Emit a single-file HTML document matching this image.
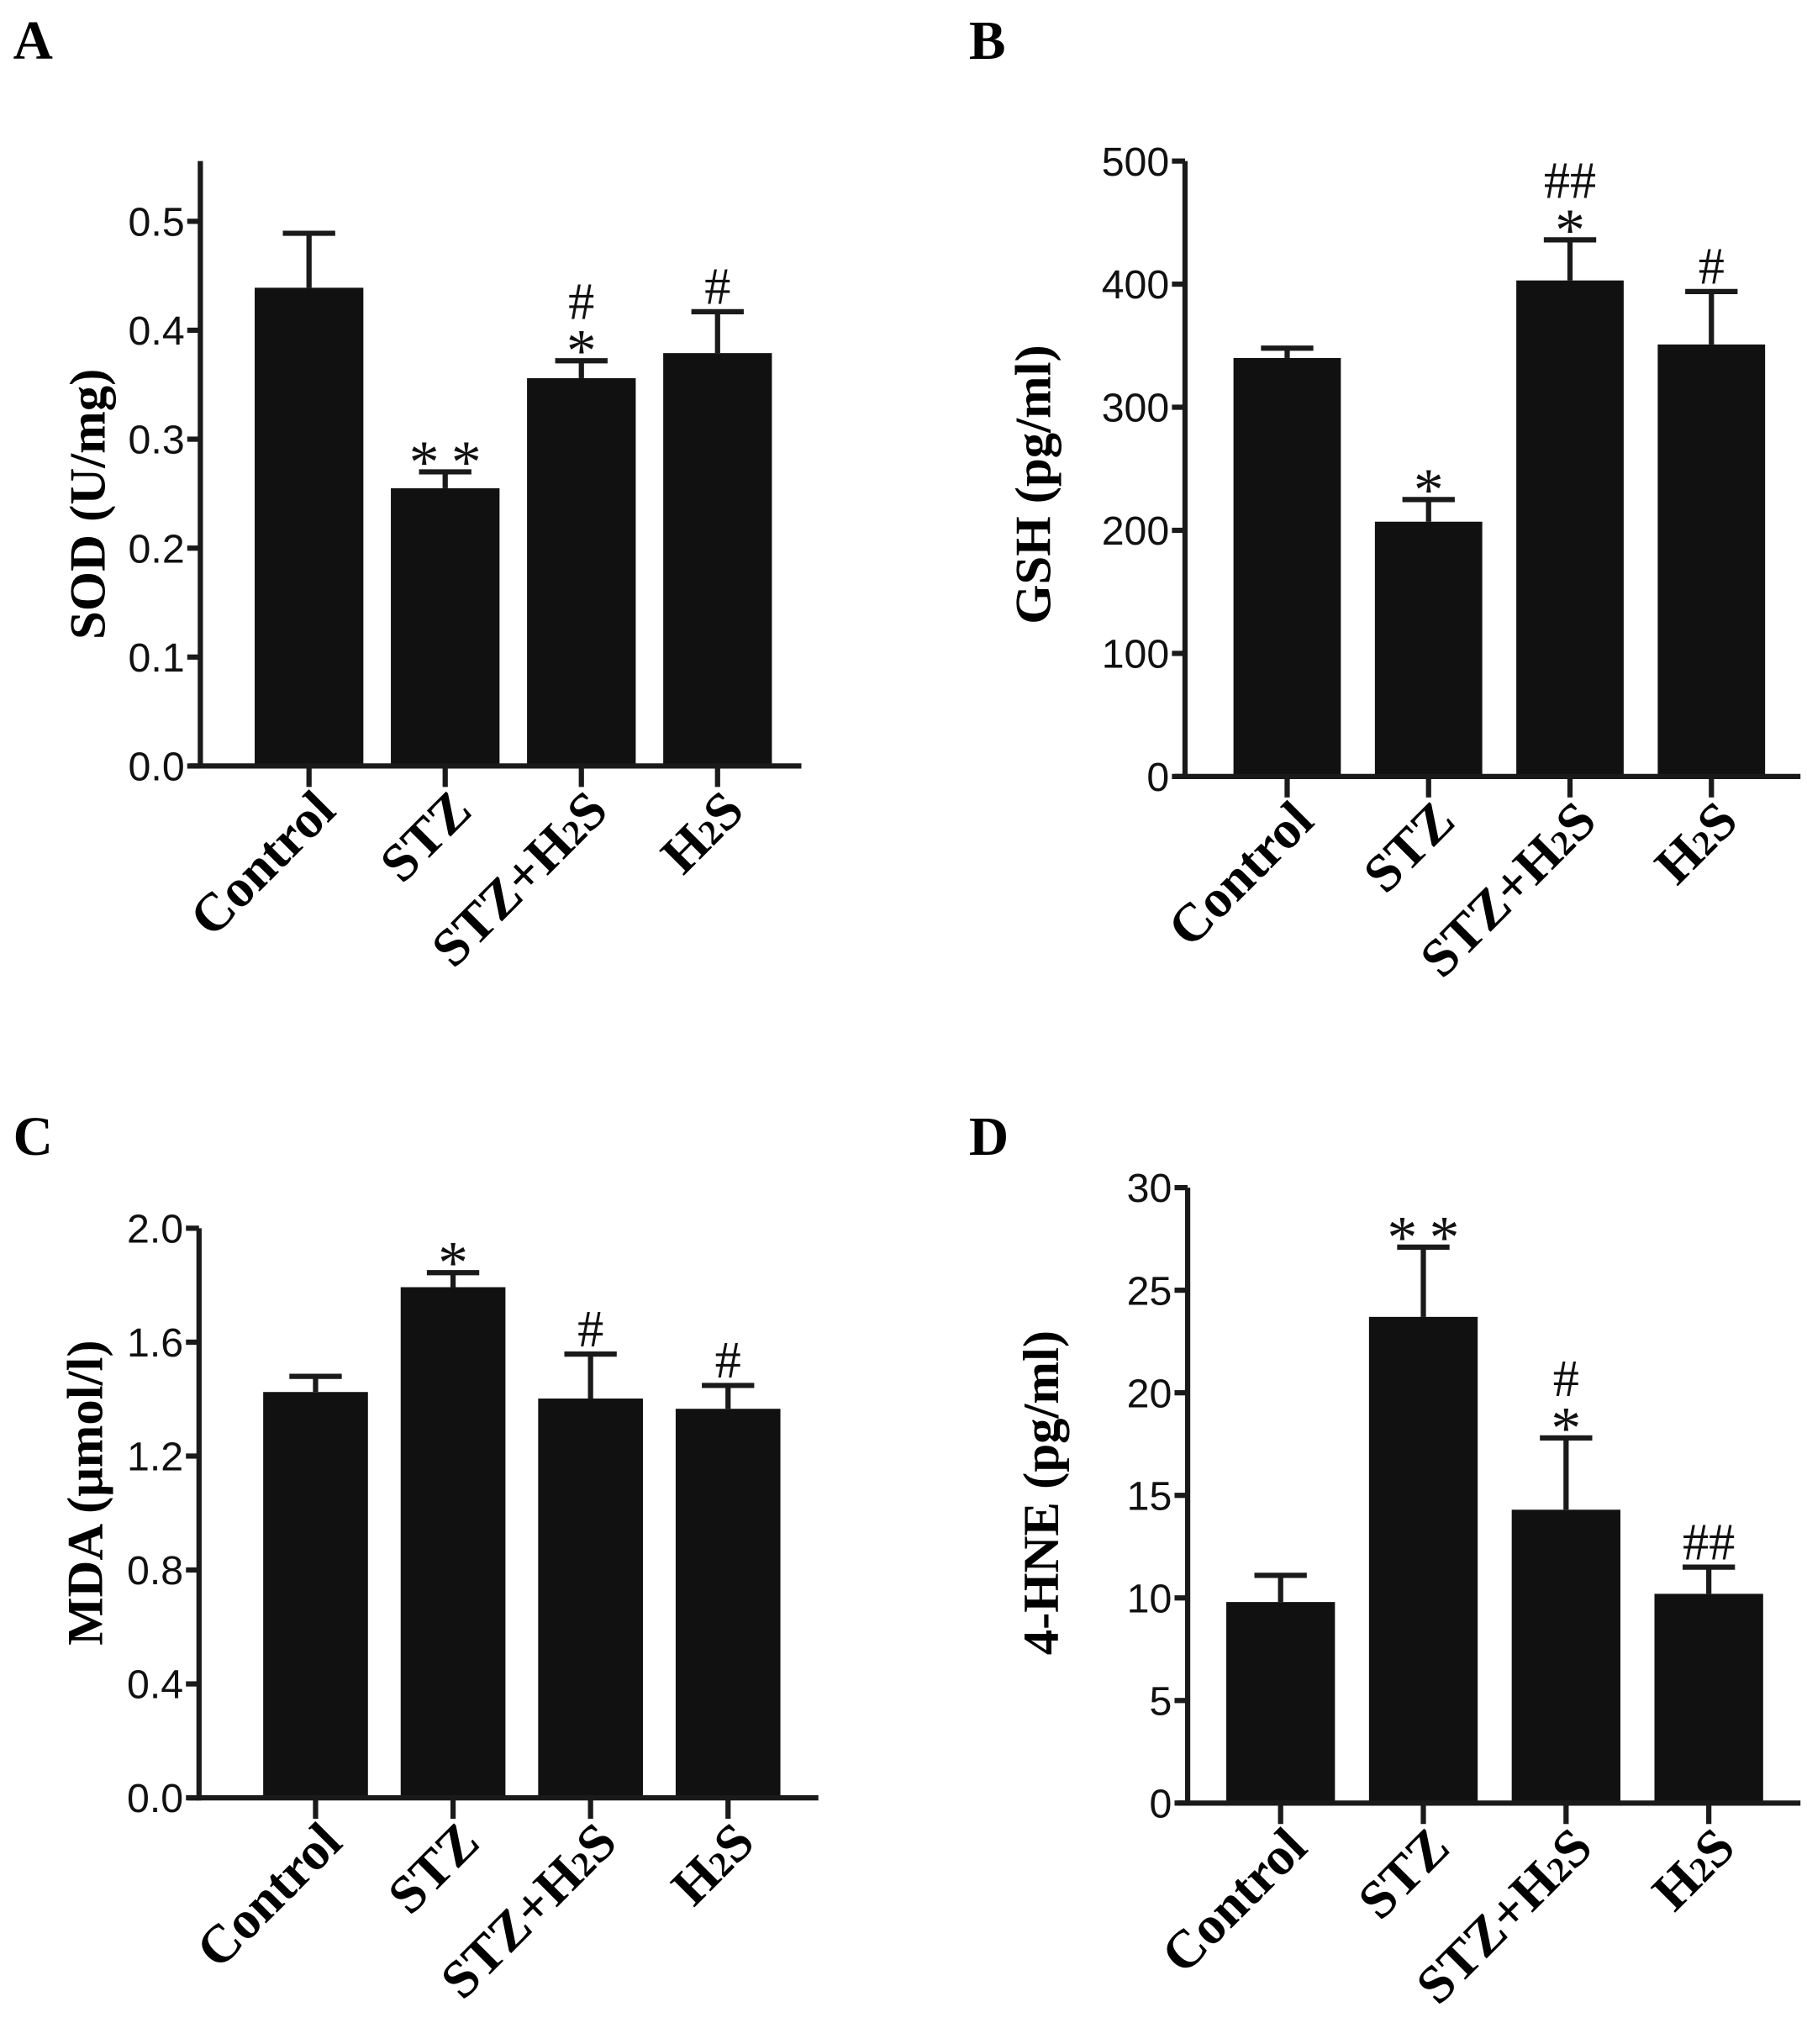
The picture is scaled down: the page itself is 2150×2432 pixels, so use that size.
<!DOCTYPE html>
<html><head><meta charset="utf-8">
<style>
html,body{margin:0;padding:0;background:#fff;}
svg{display:block;}
.tick{font-family:"Liberation Sans",Arial,sans-serif;font-size:31px;fill:#111;}
.cat{font-family:"Liberation Serif",serif;font-weight:bold;font-size:41px;fill:#000;}
.ytitle{font-family:"Liberation Serif",serif;font-weight:bold;font-size:39px;fill:#000;}
.letter{font-family:"Liberation Serif",serif;font-weight:bold;font-size:42px;fill:#000;}
.sig{font-family:"Liberation Serif",serif;font-size:40px;fill:#111;}
.star{font-family:"Liberation Serif",serif;font-size:46px;fill:#111;}
</style></head>
<body>
<svg id="fig" width="2150" height="2432" viewBox="0 0 1380 1561" xmlns="http://www.w3.org/2000/svg">
<text class="letter" x="10" y="45">A</text>
<text class="letter" x="740" y="45">B</text>
<text class="letter" x="10" y="882">C</text>
<text class="letter" x="740" y="882">D</text>
</svg>
<script>
const categories = ["Control","STZ","STZ+H2S","H2S"];
const sodValues = [0.439, 0.255, 0.356, 0.379];
const sodErrors = [0.050, 0.015, 0.016, 0.038];
const sodTicks = ["0.0","0.1","0.2","0.3","0.4","0.5"];
const sodSig = ["", "**", "*", ""];
const sodSig2 = ["", "", "#", "#"];
const gshValues = [340, 207, 403, 351];
const gshErrors = [8, 18, 33, 43];
const gshTicks = ["0","100","200","300","400","500"];
const gshSig = ["", "*", "*", ""];
const gshSig2 = ["", "", "##", "#"];
const mdaValues = [1.425, 1.793, 1.402, 1.366];
const mdaErrors = [0.055, 0.051, 0.156, 0.082];
const mdaTicks = ["0.0","0.4","0.8","1.2","1.6","2.0"];
const mdaSig = ["", "*", "", ""];
const mdaSig2 = ["", "", "#", "#"];
const hneValues = [9.8, 23.7, 14.3, 10.2];
const hneErrors = [1.3, 3.4, 3.5, 1.3];
const hneTicks = ["0","5","10","15","20","25","30"];
const hneSig = ["", "**", "*", ""];
const hneSig2 = ["", "", "#", "##"];

const NS = "http://www.w3.org/2000/svg";
const svg = document.getElementById("fig");
function mk(tag, attrs, parent){
  const e = document.createElementNS(NS, tag);
  for (const k in attrs) e.setAttribute(k, attrs[k]);
  (parent||svg).appendChild(e);
  return e;
}
function panel(cfg){
  const g = mk("g", {});
  
  
  const ticks = cfg.ticks.map(Number);
  const maxT = ticks[ticks.length-1];
  const y = v => cfg.y0 - (v / maxT) * (cfg.y0 - cfg.yMax);
  const x = i => cfg.c0 + i * cfg.step;
  cfg.values.forEach((v,i) => {
    const top = y(v), et = y(v + cfg.errors[i]);
    const eb = mk("line", {x1:x(i), x2:x(i), y1:et, y2:top, stroke:"#1a1a1a","stroke-width":4}, g);
    
    
    const cap = mk("line", {x1:x(i)-20, x2:x(i)+20, y1:et, y2:et, stroke:"#1a1a1a","stroke-width":4}, g);
    
    
    const r = mk("rect", {x:x(i)-cfg.bw/2, y:top, width:cfg.bw, height:cfg.y0-top, fill:"#111"}, g);
    
    
    if (cfg.sig[i]) {
      const t = mk("text", {x:x(i), y:et+8, "text-anchor":"middle", class:"star"}, g);
      t.textContent = cfg.sig[i].split("").join("\u2009");
      
      
    }
    if (cfg.sig2[i]) {
      const off = cfg.sig[i] ? 32 : 6;
      const t = mk("text", {x:x(i), y:et-off, "text-anchor":"middle", class:"sig"}, g);
      t.textContent = cfg.sig2[i];
      
      
    }
    const xt = mk("line", {x1:x(i), x2:x(i), y1:cfg.y0, y2:cfg.y0+16, stroke:"#1a1a1a","stroke-width":4}, g);
    
    
    const lx = x(i) + 22, ly = cfg.y0 + 36;
    const ct = mk("text", {x:lx, y:ly, "text-anchor":"end", class:"cat", transform:`rotate(-45 ${lx} ${ly})`}, g);
    
    
    const name = categories[i];
    if (name.indexOf("H2S") >= 0) {
      const pre = name.replace("H2S","");
      ct.appendChild(document.createTextNode(pre + "H"));
      const sub = mk("tspan", {"font-size":"27"}, ct);
      sub.textContent = "2";
      ct.appendChild(document.createTextNode("S"));
    } else ct.textContent = name;
  });
  const ya = mk("line", {x1:cfg.ax, x2:cfg.ax, y1:cfg.yTop, y2:cfg.y0+2, stroke:"#1a1a1a","stroke-width":4}, g);
  
  
  const xa = mk("line", {x1:cfg.ax-8, x2:cfg.xEnd, y1:cfg.y0, y2:cfg.y0, stroke:"#1a1a1a","stroke-width":4}, g);
  
  
  cfg.ticks.forEach(lbl => {
    const yy = y(Number(lbl));
    const tl = mk("line", {x1:cfg.ax-10, x2:cfg.ax, y1:yy, y2:yy, stroke:"#1a1a1a","stroke-width":4}, g);
    
    
    const tt = mk("text", {x:cfg.ax-12, y:yy+11, "text-anchor":"end", class:"tick"}, g);
    tt.textContent = lbl;
    
    
  });
  const yt = mk("text", {x:cfg.tx, y:cfg.ty, "text-anchor":"middle", class:"ytitle", transform:`rotate(-90 ${cfg.tx} ${cfg.ty})`}, g);
  yt.textContent = cfg.title;
  
  
}
panel({name:"sod-chart", values:sodValues, errors:sodErrors, ticks:sodTicks, sig:sodSig, sig2:sodSig2,
  ax:153, y0:585, yMax:169, yTop:123, xEnd:612, c0:236, step:104, bw:83, title:"SOD (U/mg)", tx:80, ty:385});
panel({name:"gsh-chart", values:gshValues, errors:gshErrors, ticks:gshTicks, sig:gshSig, sig2:gshSig2,
  ax:905, y0:593, yMax:123, yTop:123, xEnd:1375, c0:983, step:108, bw:82, title:"GSH (pg/ml)", tx:802, ty:370});
panel({name:"mda-chart", values:mdaValues, errors:mdaErrors, ticks:mdaTicks, sig:mdaSig, sig2:mdaSig2,
  ax:152, y0:1373, yMax:938, yTop:938, xEnd:625, c0:241, step:105, bw:80, title:"MDA (\u03bcmol/l)", tx:78, ty:1140});
panel({name:"hne-chart", values:hneValues, errors:hneErrors, ticks:hneTicks, sig:hneSig, sig2:hneSig2,
  ax:907, y0:1377, yMax:907, yTop:907, xEnd:1375, c0:978, step:109, bw:83, title:"4-HNE (pg/ml)", tx:808, ty:1140});
</script>
</body></html>
